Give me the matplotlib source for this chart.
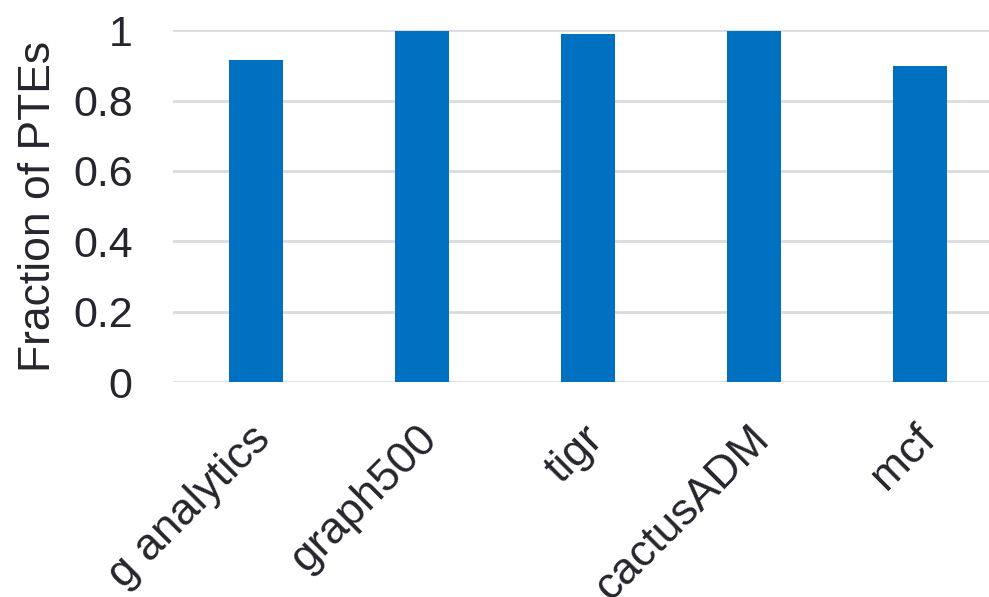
import matplotlib.pyplot as plt
import matplotlib.transforms as mtransforms
import numpy as np

benchmarks = ['g analytics', 'graph500', 'tigr', 'cactusADM', 'mcf']
fractions = [0.915, 0.997, 0.990, 0.997, 0.899]
yticks = [0, 0.2, 0.4, 0.6, 0.8, 1]
ytick_labels = ['0', '0.2', '0.4', '0.6', '0.8', '1']

text_color = '#25252d'
plt.rcParams['font.family'] = ['Liberation Sans', 'DejaVu Sans']

fig = plt.figure(figsize=(9.89, 5.97), dpi=100)
ax = fig.add_axes([173 / 989, 215 / 597, 830 / 989, 351.7 / 597])

x = np.arange(len(benchmarks))
ax.bar(x, fractions, width=0.32, color='#0070C0', zorder=3)

ax.set_xlim(-0.5, len(benchmarks) - 0.5)
ax.set_ylim(0, 1)
ax.set_yticks(yticks)
ax.set_yticklabels(ytick_labels, fontsize=31, color=text_color)
ax.set_xticks(x)
ax.set_xticklabels(benchmarks, fontsize=32, color=text_color,
                   rotation=45, ha='right', rotation_mode='anchor')
ax.tick_params(axis='both', length=0)
ax.tick_params(axis='y', pad=29)
ax.tick_params(axis='x', pad=26)

# nudge the rotated labels a little to the left
shift = mtransforms.ScaledTranslation(-6 / 100, 0, fig.dpi_scale_trans)
for lbl in ax.get_xticklabels():
    lbl.set_transform(lbl.get_transform() + shift)

ax.grid(axis='y', color='#dadae0', linewidth=2, zorder=0)
for s in ax.spines.values():
    s.set_visible(False)

ax.set_ylabel('Fraction of PTEs', fontsize=32, color=text_color, labelpad=10)

fig.savefig('out.png', dpi=100)
